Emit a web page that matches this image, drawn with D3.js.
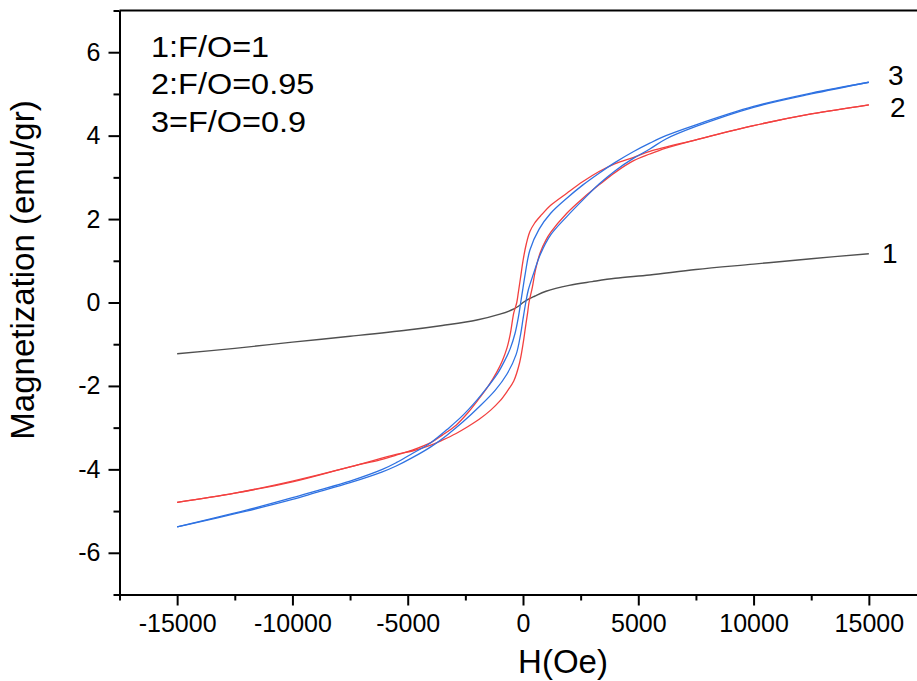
<!DOCTYPE html>
<html>
<head>
<meta charset="utf-8">
<script src="https://cdn.jsdelivr.net/npm/d3@7"></script>
<style>
  html, body { margin: 0; padding: 0; background: #fff; }
  svg { display: block; }
  text { font-family: "Liberation Sans", Arial, sans-serif; fill: #000; }
</style>
</head>
<body>
<svg id="chart" width="917" height="681"></svg>
<script>
// ---------------- data ----------------
const xTicks = [-15000, -10000, -5000, 0, 5000, 10000, 15000];
const xMinorTicks = [-17500, -12500, -7500, -2500, 2500, 7500, 12500, 17500];
const yTicks = [-6, -4, -2, 0, 2, 4, 6];
const yMinorTicks = [-7, -5, -3, -1, 1, 3, 5, 7];
const legendLines = ["1:F/O=1", "2:F/O=0.95", "3=F/O=0.9"];
const curveNames = ["1", "2", "3"];

// curve 1 (F/O=1), nearly closed
const s1H = [-15000, -12500, -10000, -7500, -5000, -3500, -2000, -1000, -500, -200, 0, 200, 500, 1000, 2000, 3000, 4000, 5500, 7500, 10000, 12500, 15000];
const s1M = [-1.23, -1.10, -0.95, -0.81, -0.66, -0.55, -0.42, -0.28, -0.18, -0.09, 0.0, 0.07, 0.15, 0.27, 0.41, 0.50, 0.58, 0.66, 0.79, 0.92, 1.05, 1.17];

// curve 2 (F/O=0.95): descending branch (upper) and ascending branch (lower)
const s2DescH = [15000, 12500, 10000, 7500, 5500, 4800, 4000, 3300, 2600, 1900, 1200, 800, 500, 300, 150, 0, -100, -200, -270, -400, -550, -700, -900, -1150, -1500, -1900, -2400, -2900, -3500, -4000, -4800, -5500, -6200, -7500, -10000, -12500, -15000];
const s2DescM = [4.74, 4.52, 4.24, 3.90, 3.62, 3.48, 3.33, 3.14, 2.90, 2.62, 2.33, 2.10, 1.90, 1.70, 1.42, 1.00, 0.62, 0.25, 0.0, -0.25, -0.75, -1.10, -1.40, -1.68, -2.00, -2.30, -2.65, -2.94, -3.18, -3.36, -3.54, -3.66, -3.77, -3.94, -4.30, -4.57, -4.79];
const s2AscH = [-15000, -12500, -10000, -7500, -5500, -4800, -4000, -3500, -2900, -2400, -1900, -1400, -1000, -700, -400, -150, 0, 100, 200, 260, 400, 550, 750, 1000, 1200, 1900, 2600, 3300, 4000, 4800, 5500, 6200, 7500, 10000, 12500, 15000];
const s2AscM = [-4.79, -4.57, -4.28, -3.94, -3.64, -3.56, -3.42, -3.30, -3.14, -2.98, -2.80, -2.58, -2.36, -2.14, -1.88, -1.45, -1.00, -0.62, -0.25, 0.0, 0.35, 0.80, 1.20, 1.50, 1.68, 2.14, 2.50, 2.82, 3.12, 3.40, 3.56, 3.70, 3.90, 4.24, 4.52, 4.74];

// curve 3 (F/O=0.9)
const s3DescH = [15000, 12500, 10000, 7500, 6200, 5500, 4800, 4000, 3300, 2600, 1900, 1200, 700, 300, 100, 0, -100, -200, -350, -550, -800, -1100, -1500, -2000, -2600, -3200, -4000, -4800, -5500, -6100, -7500, -9000, -10000, -12000, -15000];
const s3DescM = [5.28, 5.02, 4.70, 4.26, 4.00, 3.82, 3.62, 3.36, 3.10, 2.82, 2.50, 2.14, 1.76, 1.26, 0.70, 0.35, 0.0, -0.35, -0.75, -1.10, -1.40, -1.70, -2.00, -2.34, -2.70, -3.00, -3.36, -3.62, -3.84, -4.00, -4.28, -4.52, -4.68, -4.98, -5.38];
const s3AscH = [-15000, -12000, -10000, -9000, -7500, -6100, -5500, -4800, -4000, -3300, -2600, -1900, -1200, -700, -300, -100, 0, 120, 230, 450, 750, 1200, 1900, 2600, 3300, 4000, 4800, 5500, 6200, 7500, 10000, 12500, 15000];
const s3AscM = [-5.38, -5.00, -4.72, -4.56, -4.32, -4.06, -3.92, -3.72, -3.46, -3.18, -2.86, -2.50, -2.10, -1.72, -1.25, -0.75, -0.40, 0.0, 0.30, 0.68, 1.15, 1.62, 2.06, 2.46, 2.84, 3.16, 3.46, 3.68, 3.92, 4.22, 4.68, 5.00, 5.28];

// ---------------- layout ----------------
const svg = d3.select("#chart");
const pLeft = 119.5, pRight = 926.5, pTop = 10.5, pBottom = 594.5;

const x = d3.scaleLinear().domain([-17500, 17500]).range([pLeft, pRight]);
const y = d3.scaleLinear().domain([-7, 7]).range([pBottom, pTop]);

const colors = { c1: "#505050", c2: "#f2403f", c3: "#2f72e2" };

// ---------------- curves ----------------
const lineNM = d3.line().x(d => x(d[0])).y(d => y(d[1])).curve(d3.curveCatmullRom.alpha(0.5));
const zip = (a, b) => a.map((v, i) => [v, b[i]]);

const g = svg.append("g");
g.append("path").datum(zip(s1H, s1M)).attr("d", lineNM)
  .attr("fill", "none").attr("stroke", colors.c1).attr("stroke-width", 1.4);
[[s2DescH, s2DescM], [s2AscH, s2AscM]].forEach(([h, m]) => {
  g.append("path").datum(zip(h, m)).attr("d", lineNM)
    .attr("fill", "none").attr("stroke", colors.c2).attr("stroke-width", 1.3);
});
[[s3DescH, s3DescM], [s3AscH, s3AscM]].forEach(([h, m]) => {
  g.append("path").datum(zip(h, m)).attr("d", lineNM)
    .attr("fill", "none").attr("stroke", colors.c3).attr("stroke-width", 1.3);
});

// ---------------- frame & axes ----------------
svg.append("line").attr("x1", pLeft).attr("x2", pRight + 5).attr("y1", pTop).attr("y2", pTop)
  .attr("stroke", "#000").attr("stroke-width", 2);

const xAxis = svg.append("g").attr("transform", `translate(0,${pBottom})`)
  .call(d3.axisBottom(x).tickValues(xTicks).tickSize(11).tickSizeOuter(0).tickPadding(5).tickFormat(d3.format("d")));
const xMinor = svg.append("g").attr("transform", `translate(0,${pBottom})`)
  .call(d3.axisBottom(x).tickValues(xMinorTicks).tickSize(6).tickSizeOuter(0).tickFormat(""));
const yAxis = svg.append("g").attr("transform", `translate(${pLeft},0)`)
  .call(d3.axisLeft(y).tickValues(yTicks).tickSize(11).tickSizeOuter(0).tickPadding(8).tickFormat(d3.format("d")));
const yMinor = svg.append("g").attr("transform", `translate(${pLeft},0)`)
  .call(d3.axisLeft(y).tickValues(yMinorTicks).tickSize(6).tickSizeOuter(0).tickFormat(""));

[xAxis, xMinor, yAxis, yMinor].forEach(a => {
  a.select(".domain").attr("stroke", "#000").attr("stroke-width", 2);
  a.selectAll(".tick line").attr("stroke", "#000").attr("stroke-width", 2);
  a.selectAll("text").attr("font-family", "Liberation Sans, Arial, sans-serif")
    .attr("font-size", 25).attr("fill", "#000");
});
xAxis.selectAll("text").text(d => d < 0 ? "-" + Math.abs(d) : d).attr("dy", "0.85em");
yAxis.selectAll("text").text(d => d < 0 ? "-" + Math.abs(d) : d);

// ---------------- titles ----------------
svg.append("text").attr("x", 563).attr("y", 673).attr("text-anchor", "middle")
  .attr("font-size", 33).text("H(Oe)");
svg.append("text").attr("transform", `translate(34,270) rotate(-90)`).attr("text-anchor", "middle")
  .attr("font-size", 33).text("Magnetization (emu/gr)");

// ---------------- legend text ----------------
const legendY = [57, 94, 132];
svg.append("g").selectAll("text").data(legendLines).join("text")
  .attr("transform", (d, i) => `translate(151,${legendY[i]}) scale(1.12,1)`)
  .attr("font-size", 29).text(d => d);

// ---------------- curve number labels ----------------
const endLabelPos = [[882, 263], [890, 117], [888, 85]];
svg.append("g").selectAll("text").data(curveNames).join("text")
  .attr("x", (d, i) => endLabelPos[i][0])
  .attr("y", (d, i) => endLabelPos[i][1])
  .attr("font-size", 28).text(d => d);
</script>
</body>
</html>
